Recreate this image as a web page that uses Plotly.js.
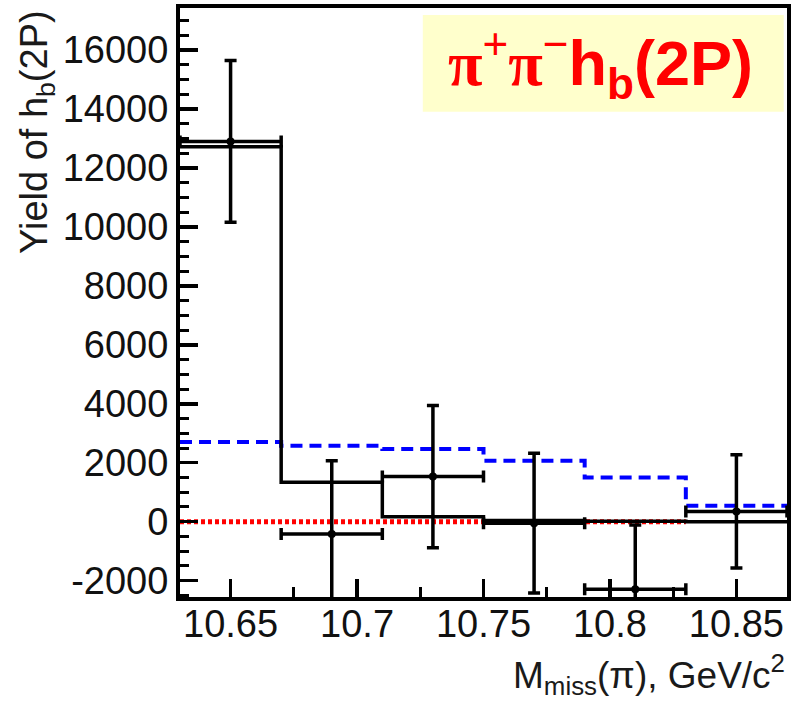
<!DOCTYPE html>
<html>
<head>
<meta charset="utf-8">
<script src="https://cdn.plot.ly/plotly-3.0.1.min.js"></script>
<style>html,body{margin:0;padding:0;background:#fff;}</style>
</head>
<body>
<div id="chart" style="width:798px;height:702px;"></div>
<script>
// ---- data ----
const binEdges = [10.63, 10.67, 10.71, 10.75, 10.79, 10.83, 10.87];
const fitHist = [12720, 1340, 170, 40, 15, 0];          // black solid histogram
const bgHist = [2700, 2580, 2470, 2070, 1500, 540];       // blue dashed histogram
const pointX = [10.65, 10.69, 10.73, 10.77, 10.81, 10.85];
const pointY = [12900, -420, 1530, -50, -2290, 350];
const pointErrY = [2740, 2490, 2410, 2370, 2180, 1920];
const pointErrX = [0.02, 0.02, 0.02, 0.02, 0.02, 0.02];
const zeroLineX = [10.63, 10.83];
const zeroLineY = [0, 0];
const xTickVals = [10.65, 10.7, 10.75, 10.8, 10.85];
const xTickText = ['10.65', '10.7', '10.75', '10.8', '10.85'];
const yTickVals = [-2000, 0, 2000, 4000, 6000, 8000, 10000, 12000, 14000, 16000];
const yTickText = ['-2000', '0', '2000', '4000', '6000', '8000', '10000', '12000', '14000', '16000'];

const stepY = arr => arr.concat([arr[arr.length - 1]]);

const traces = [
  {x: zeroLineX, y: zeroLineY, mode: 'lines', line: {color: '#ff0000', width: 5, dash: '4px,3px'}, hoverinfo: 'skip'},
  {x: binEdges, y: stepY(bgHist), mode: 'lines', line: {color: '#0000ff', width: 4, dash: '12px,7px', shape: 'hv'}},
  {x: binEdges, y: stepY(fitHist), mode: 'lines', line: {color: '#000000', width: 3.5, shape: 'hv'}},
  {x: pointX, y: pointY, mode: 'markers', marker: {color: '#000', size: 8},
   error_y: {type: 'data', array: pointErrY, visible: true, color: '#000', thickness: 3.5, width: 6},
   error_x: {type: 'data', array: pointErrX, visible: true, color: '#000', thickness: 3.5, width: 6}}
];

const tickFont = {family: 'Liberation Sans, Arial, sans-serif', size: 38, color: '#111'};

const layout = {
  width: 798, height: 702,
  margin: {l: 180, r: 11, t: 8, b: 105},
  paper_bgcolor: '#fff', plot_bgcolor: '#fff',
  showlegend: false,
  xaxis: {
    range: [10.63, 10.87], tickmode: 'array', tickvals: xTickVals, ticktext: xTickText,
    ticks: 'inside', ticklen: 18, tickwidth: 3.5, tickcolor: '#000',
    showline: true, linewidth: 4, linecolor: '#000', mirror: true,
    showgrid: false, zeroline: false, tickfont: tickFont, ticklabelstandoff: -10,
    minor: {ticks: 'inside', ticklen: 10, tickwidth: 3, tickcolor: '#000', tick0: 10.65, dtick: 0.025, showgrid: false}
  },
  yaxis: {
    range: [-2554, 17425], tickmode: 'array', tickvals: yTickVals, ticktext: yTickText,
    ticks: 'inside', ticklen: 18, tickwidth: 3.5, tickcolor: '#000',
    showline: true, linewidth: 4, linecolor: '#000', mirror: true,
    showgrid: false, zeroline: false, tickfont: tickFont,
    minor: {ticks: 'inside', ticklen: 9, tickwidth: 3, tickcolor: '#000', tick0: 0, dtick: 500, showgrid: false}
  },
  shapes: [
    {type: 'rect', xref: 'paper', yref: 'paper', x0: 0.4, x1: 0.9946, y0: 0.824, y1: 0.988,
     fillcolor: '#ffffcc', line: {width: 0}, layer: 'below'}
  ],
  annotations: [
    {xref: 'paper', yref: 'paper', x: 0.692, y: 0.906, xanchor: 'center', yanchor: 'middle', showarrow: false,
     text: "<span style='font-family:Liberation Serif'>π</span><sup style='font-weight:normal'>+</sup><span style='font-family:Liberation Serif'>π</span><sup style='font-weight:normal'>−</sup>h<sub>b</sub>(2P)",
     font: {family: 'Liberation Sans, Arial, sans-serif', size: 63, color: '#ff0000', weight: 'bold'}},
    {xref: 'paper', yref: 'paper', x: -0.2356, y: 1, xanchor: 'center', yanchor: 'top', showarrow: false, textangle: -90,
     text: 'Yield of h<sub>b</sub>(2P)', font: {family: 'Liberation Sans, Arial, sans-serif', size: 38, color: '#1a1a1a'}},
    {xref: 'paper', yref: 'paper', x: 1, y: -0.132, xanchor: 'right', yanchor: 'middle', showarrow: false,
     text: 'M<sub>miss</sub>(π), GeV/c<sup>2</sup>', font: {family: 'Liberation Sans, Arial, sans-serif', size: 37, color: '#1a1a1a'}}
  ]
};

Plotly.newPlot('chart', traces, layout, {displayModeBar: false, staticPlot: true});
</script>
</body>
</html>
